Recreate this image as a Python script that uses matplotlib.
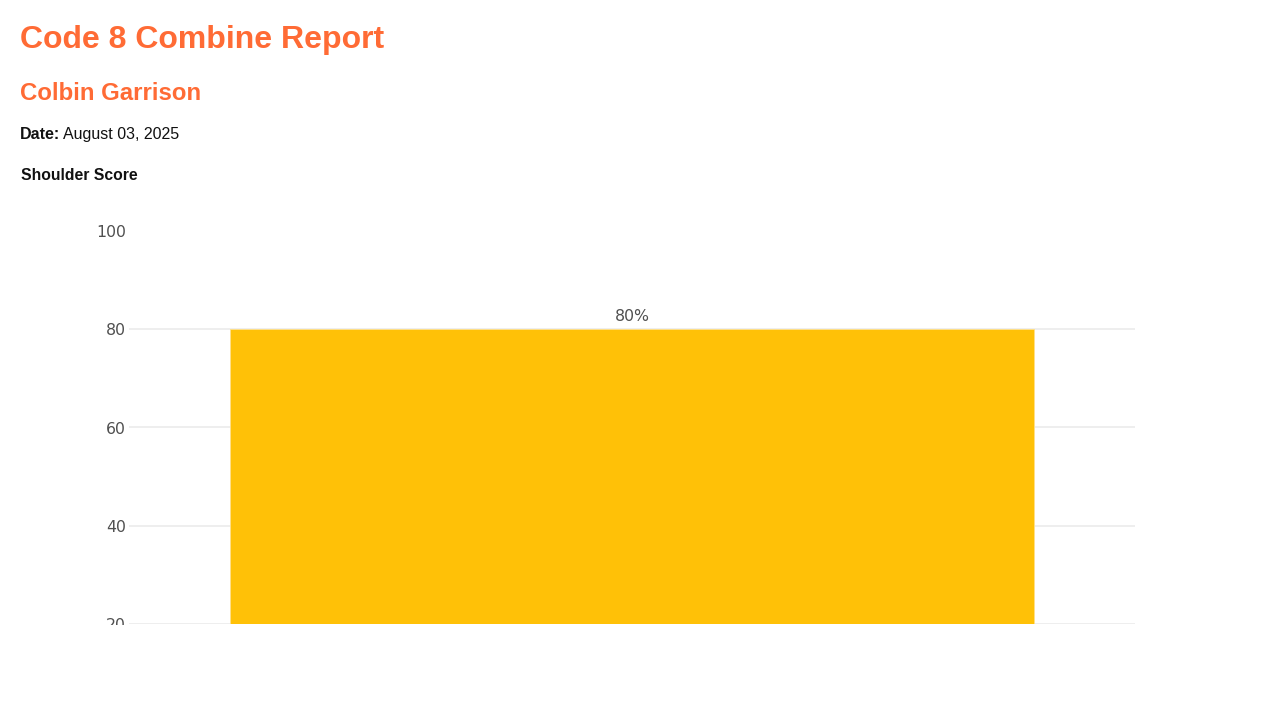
import matplotlib
matplotlib.use("Agg")
import matplotlib.pyplot as plt
from matplotlib.patches import Rectangle

# Data
categories = ["Shoulder"]
scores = [80]
bar_labels = ["80%"]
y_ticks = [20, 40, 60, 80, 100]

W, H = 1280, 720
fig = plt.figure(figsize=(12.8, 7.2), dpi=100)
fig.patch.set_facecolor("white")

def fy(y):
    return 1 - y / H

orange = "#FF6B35"
fig.text(20 / W, fy(40), "Code 8 Combine Report", family="Liberation Sans",
         weight="bold", size=23, color=orange, va="center", ha="left")
fig.text(20 / W, fy(94), "Colbin Garrison", family="Liberation Sans",
         weight="bold", size=17.3, color=orange, va="center", ha="left")
fig.text(20 / W, fy(139), "Date:", family="Liberation Sans",
         weight="bold", size=11.5, color="#111111", va="baseline", ha="left")
fig.text(63 / W, fy(139), "August 03, 2025", family="Liberation Sans",
         size=11.5, color="#111111", va="baseline", ha="left")
fig.text(21 / W, fy(176), "Shoulder Score", family="Liberation Sans",
         weight="bold", size=11.3, color="#111111", va="center", ha="left")

# Axes
left, right, top, bottom = 129, 1135, 231, 624
ax = fig.add_axes([left / W, fy(bottom), (right - left) / W, (bottom - top) / H])
ax.set_facecolor("white")
x = list(range(len(categories)))
ax.bar(x, scores, width=0.8, color="#FFC107", edgecolor="#FFE08A",
       linewidth=0.6, zorder=2)
ax.set_xlim(-0.5, 0.5)
ax.set_ylim(20, 100)
ax.set_yticks(y_ticks)
ax.set_yticklabels([str(v) for v in y_ticks])
ax.set_xticks([])
for s in ax.spines.values():
    s.set_visible(False)
for v in y_ticks[:-1]:
    ax.axhline(v, color="#EBEBEB", linewidth=1.2, zorder=0)
ax.tick_params(axis="y", length=0, pad=2, labelsize=11.3, labelcolor="#505050",
               labelfontfamily="DejaVu Sans")

for xi, v, lab in zip(x, scores, bar_labels):
    ax.annotate(lab, (xi, v), xytext=(0, 3.5), textcoords="offset points",
                ha="center", va="bottom", fontsize=11.3, color="#505050",
                family="DejaVu Sans")

# clipping of the chart region at the bottom (as in the reference)
fig.patches.append(Rectangle((0, 0), 1, fy(625), transform=fig.transFigure,
                             facecolor="white", edgecolor="none", zorder=100))

fig.savefig("out.png", dpi=100, facecolor="white")
